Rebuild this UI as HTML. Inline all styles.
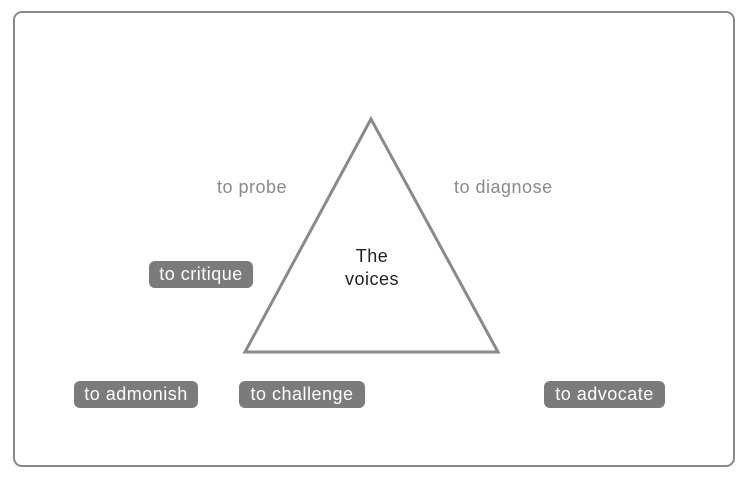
<!DOCTYPE html>
<html><head><style>
html,body{margin:0;padding:0;background:#fff;}
body{width:748px;height:484px;position:relative;overflow:hidden;font-family:"Liberation Sans",sans-serif;}
.frame{position:absolute;left:13px;top:11px;width:718px;height:452px;border:2px solid #8a8a8a;border-radius:9px;}
.b{position:absolute;background:#7b7b7b;color:#fff;font-size:18px;letter-spacing:0.5px;border-radius:6px;height:27px;line-height:27px;text-align:center;}
.t{position:absolute;color:#8a8a8a;font-size:18px;letter-spacing:0.5px;}
</style></head><body>
<div class="frame"></div>
<svg width="748" height="484" style="position:absolute;left:0;top:0">
<polygon points="371,119 245,352 498,352" fill="none" stroke="#8a8a8a" stroke-width="3"/>
</svg>
<div class="t" style="left:217px;top:177px">to probe</div>
<div class="t" style="left:454px;top:177px">to diagnose</div>
<div style="position:absolute;left:322px;top:245px;width:100px;text-align:center;font-size:18px;letter-spacing:0.5px;line-height:23px;color:#222">The<br>voices</div>
<div class="b" style="left:149px;top:261px;width:104px">to critique</div>
<div class="b" style="left:74px;top:381px;width:124px">to admonish</div>
<div class="b" style="left:239px;top:381px;width:126px">to challenge</div>
<div class="b" style="left:544px;top:381px;width:121px">to advocate</div>
</body></html>
